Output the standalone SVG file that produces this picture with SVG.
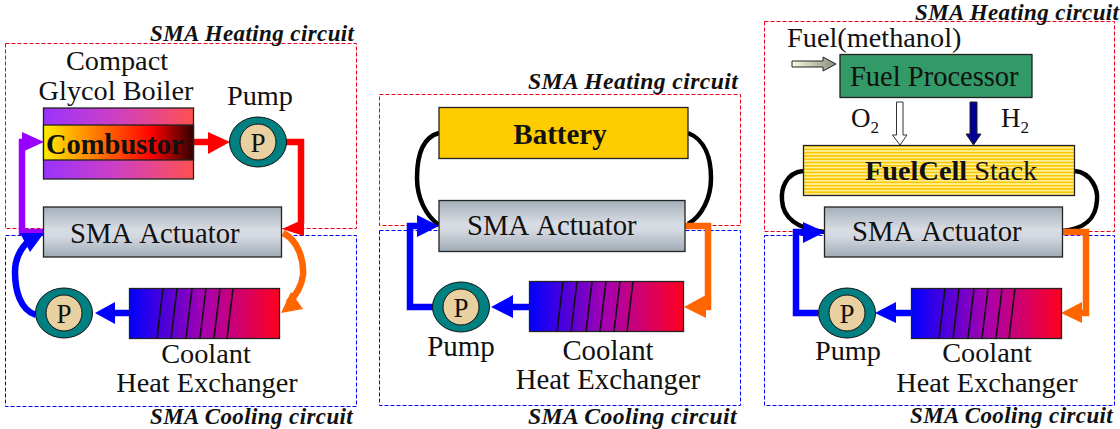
<svg xmlns="http://www.w3.org/2000/svg" width="1120" height="429" viewBox="0 0 1120 429">
<style>
text{font-family:"Liberation Serif","Times New Roman",serif;fill:#111}
.n{font-size:28.300px}
.c{font-size:23px;font-weight:bold;font-style:italic;letter-spacing:.4px}
.cw{font-size:23.700px}
.a{font-size:28.700px;word-spacing:3px}
.m{text-anchor:middle}
.red{fill:none;stroke:#e8001c;stroke-width:1;stroke-dasharray:4 2}
.blue{fill:none;stroke:#0000ff;stroke-width:1;stroke-dasharray:4 2}
.box{stroke:#222;stroke-width:1.3}
.fl{fill:none;stroke-width:6.500}
.bk{fill:none;stroke:#000;stroke-width:4.500}
.st{stroke:#111;stroke-width:1.600;fill:none}
</style>
<defs>
<linearGradient id="act" x1="0" y1="0" x2="0" y2="1"><stop offset="0" stop-color="#a4afba"/><stop offset=".45" stop-color="#d8dce3"/><stop offset=".6" stop-color="#d3d7df"/><stop offset="1" stop-color="#a0abb6"/></linearGradient>
<linearGradient id="hx"><stop offset="0" stop-color="#0000ff"/><stop offset=".5" stop-color="#a800b0"/><stop offset="1" stop-color="#ff0020"/></linearGradient>
<linearGradient id="boil"><stop offset="0" stop-color="#9a33ff"/><stop offset=".5" stop-color="#d040c0"/><stop offset="1" stop-color="#ff5050"/></linearGradient>
<linearGradient id="comb"><stop offset="0" stop-color="#ffee00"/><stop offset=".72" stop-color="#ff0000"/><stop offset="1" stop-color="#330000"/></linearGradient>
<linearGradient id="fuel"><stop offset="0" stop-color="#fbfbe8"/><stop offset="1" stop-color="#8a8a78"/></linearGradient>
<pattern id="stripe" width="4" height="3.300" patternUnits="userSpaceOnUse"><rect width="4" height="3.300" fill="#fff0a0"/><rect width="4" height="1.700" fill="#f8c800"/></pattern>
<g id="pump"><ellipse rx="28.500" ry="25" fill="#008080" stroke="#111" stroke-width="1"/><circle r="18" fill="#e8d0a0" stroke="#111" stroke-width="1"/><text class="m" y="9.500" font-size="27">P</text></g>
<g id="coils"><path class="st" d="M-7 50L-1 0M7 50L13 0M22 50L28 0M36 50L42 0M50 50L56 0M63 50L69 0"/></g>
</defs>
<g id="regions">
<rect class="red" x="5.500" y="43.500" width="351" height="185"/>
<rect class="blue" x="5.500" y="235.500" width="351" height="171"/>
<rect class="red" x="379.500" y="94.500" width="361" height="131"/>
<rect class="blue" x="379.500" y="230.500" width="361" height="175"/>
<rect class="red" x="764.500" y="21.500" width="350" height="210"/>
<rect class="blue" x="764.500" y="235.500" width="350" height="170"/>
</g>
<g id="connectors">
<path class="fl" stroke="#9900ff" d="M43 232H22V142H28"/>
<polygon fill="#9900ff" points="22,132 44,142 22,152"/>
<path class="fl" stroke="#ff0000" d="M193 142H210"/>
<polygon fill="#ff0000" points="208,132 230,142 208,154"/>
<path class="fl" stroke="#ff6600" d="M283 233C298 240 304 260 303 275C302 285 296 296 288 303"/>
<polygon fill="#ff6600" points="291,292 303,309 281,313"/>
<path class="fl" stroke="#ff0000" d="M286 142H301V224"/>
<polygon fill="#ff0000" points="304,219 304,236 282,229"/>
<path class="fl" stroke="#0000ff" d="M129 313H112"/>
<polygon fill="#0000ff" points="115,302 115,324 95,313"/>
<path class="fl" stroke="#0000ff" d="M36 315C20 310 15 290 15 272C15 258 22 246 32 238"/>
<polygon fill="#0000ff" points="44,233 20,233 30,252"/>
<path class="bk" d="M439 133C420 138 417 160 417 178C417 198 426 216 439 225"/>
<path class="bk" d="M688 133C706 140 711 160 711 178C711 198 702 216 688 224"/>
<path class="fl" stroke="#0000ff" d="M461 307H410V226H425"/>
<polygon fill="#0000ff" points="417,215 439,226 417,237"/>
<path class="fl" stroke="#ff6600" d="M685 226H708V307H700"/>
<polygon fill="#ff6600" points="706,295 706,318 684,307"/>
<path class="fl" stroke="#0000ff" d="M529 307H510"/>
<polygon fill="#0000ff" points="513,295 513,318 491,307"/>
<path class="bk" d="M803 171C785 173 781 190 782 200C783 220 800 229 824 232"/>
<path class="bk" d="M1075 171C1092 173 1098 190 1097 200C1096 220 1084 229 1062 231"/>
<path class="fl" stroke="#0000ff" d="M818 313H796V232H810"/>
<polygon fill="#0000ff" points="803,222 825,232 803,243"/>
<path class="fl" stroke="#ff6600" d="M1062 232H1086V313H1075"/>
<polygon fill="#ff6600" points="1082,302 1082,323 1061,313"/>
<path class="fl" stroke="#0000ff" d="M911 313H892"/>
<polygon fill="#0000ff" points="896,302 896,323 875,313"/>
<polygon fill="url(#fuel)" stroke="#222" stroke-width="1" points="792,61 823,61 823,57 836,64 823,71 823,67 792,67"/>
<polygon fill="#fff" stroke="#333" stroke-width="1" points="896.500,102 903,102 903,135 907,135 900,145 892.500,135 896.500,135"/>
<polygon fill="#000099" stroke="#222" stroke-width="1" points="970,102 977,102 977,134 981,134 973.500,145 966,134 970,134"/>
</g>
<g id="boiler">
<rect class="box" x="43.500" y="108" width="150" height="71" fill="url(#boil)"/>
<rect class="box" x="43.500" y="125" width="150" height="35" fill="url(#comb)"/>
<text x="46" y="154" font-size="28.500" font-weight="bold">Combustor</text>
<text class="n m" x="117" y="70">Compact</text>
<text class="n m" x="116" y="100">Glycol Boiler</text>
</g>
<g id="pump-l1"><use href="#pump" x="258" y="142"/><text class="n m" x="260" y="105">Pump</text></g>
<g id="actuator-l"><rect class="box" x="43.500" y="207" width="238" height="50" fill="url(#act)"/><text class="a" x="70" y="243">SMA Actuator</text></g>
<g id="pump-l2"><use href="#pump" x="64" y="313"/></g>
<g id="hx-l"><rect class="box" x="129.500" y="288.500" width="150" height="50" fill="url(#hx)"/><use href="#coils" x="164" y="288.500"/><text class="n m" x="206" y="363">Coolant</text><text class="n m" x="207" y="392">Heat Exchanger</text></g>
<g id="battery"><rect class="box" x="439" y="107.500" width="249" height="51" fill="#ffcc00"/><text x="560" y="144" text-anchor="middle" font-size="29" font-weight="bold">Battery</text></g>
<g id="actuator-m"><rect class="box" x="439" y="200.500" width="246" height="51" fill="url(#act)"/><text class="a" x="467" y="235">SMA Actuator</text></g>
<g id="pump-m"><use href="#pump" x="461" y="307"/><text class="m" font-size="29" x="461" y="356">Pump</text></g>
<g id="hx-m"><rect class="box" x="529.500" y="281.500" width="154" height="50" fill="url(#hx)"/><use href="#coils" x="564" y="281.500"/><text class="m" font-size="28.800" x="608" y="360">Coolant</text><text class="m" font-size="28.800" x="608" y="389">Heat Exchanger</text></g>
<g id="fuel-processor"><rect class="box" x="840" y="54.500" width="192" height="43" fill="#339966"/><text x="850" y="86" font-size="28.500">Fuel Processor</text></g>
<text class="n" x="787" y="47">Fuel(methanol)</text>
<text x="851" y="127" font-size="27">O<tspan font-size="17" dy="6">2</tspan></text>
<text x="1001" y="127" font-size="27">H<tspan font-size="17" dy="6">2</tspan></text>
<g id="stack"><rect class="box" x="803.500" y="145.500" width="271" height="50" fill="url(#stripe)"/><text x="865" y="180" font-size="28.300"><tspan font-weight="bold">FuelCell</tspan> Stack</text></g>
<g id="actuator-r"><rect class="box" x="824.500" y="207" width="238" height="50" fill="url(#act)"/><text class="a" x="852" y="241">SMA Actuator</text></g>
<g id="pump-r"><use href="#pump" x="847" y="313"/><text class="n m" x="848" y="360">Pump</text></g>
<g id="hx-r"><rect class="box" x="911.500" y="288.500" width="150" height="50" fill="url(#hx)"/><use href="#coils" x="946" y="288.500"/><text class="n m" x="987" y="362">Coolant</text><text class="n m" x="987" y="392">Heat Exchanger</text></g>
<g id="labels">
<text class="c" x="150" y="41">SMA Heating circuit</text>
<text class="c" x="150" y="424">SMA Cooling circuit</text>
<text class="c cw" x="528" y="89">SMA Heating circuit</text>
<text class="c cw" x="528" y="424">SMA Cooling circuit</text>
<text class="c" x="915" y="20">SMA Heating circuit</text>
<text class="c" x="910" y="423">SMA Cooling circuit</text>
</g>
</svg>
